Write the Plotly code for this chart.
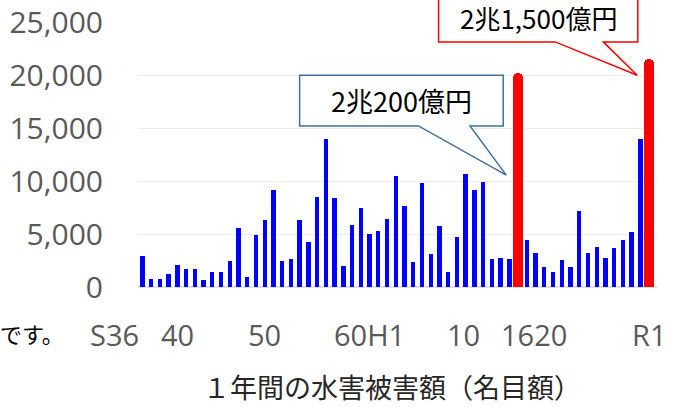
import plotly.graph_objects as go

# ---- data ----
years = list(range(1961, 2020))
damage = [
    2900, 800, 800, 1200, 2050, 1700, 1700, 650, 1450, 1450,      # 1961-1970
    2450, 5600, 900, 4900, 6300, 9150, 2450, 2600, 6300, 4250,    # 1971-1980
    8450, 13950, 8400, 2000, 5850, 7500, 5000, 5300, 6400, 10500, # 1981-1990
    7600, 2400, 9800, 3100, 5750, 1400, 4750, 10650, 9150, 9950,  # 1991-2000
    2600, 2700, 2600, 20200, 4450, 3250, 1850, 1400, 2550, 1850,  # 2001-2010
    7150, 3250, 3750, 2700, 3650, 4450, 5150, 14000, 21500,       # 2011-2019
]
highlight_years = [2004, 2019]

x_labels = ["S36", "40", "50", "60H1", "10", "1620", "R1"]
x_label_years = [1961, 1965, 1975, 1987, 1998, 2006, 2019]
x_label_shift = [-28, 0, 0, 0, -2.5, -1.5, 0]

y_ticks = [0, 5000, 10000, 15000, 20000, 25000]
y_tick_text = ["0", "5,000", "10,000", "15,000", "20,000", "25,000"]

callout_blue_text = "2兆200億円"
callout_red_text = "2兆1,500億円"
title_text = "１年間の水害被害額（名目額）"
left_fragment = "です。"

# ---- split series ----
bx = [y for y in years if y not in highlight_years]
by = [v for y, v in zip(years, damage) if y not in highlight_years]
rx = [y for y in years if y in highlight_years]
ry = [v for y, v in zip(years, damage) if y in highlight_years]

fig = go.Figure()
fig.add_trace(go.Bar(x=bx, y=by, width=0.5, marker=dict(color="#0000ff", line=dict(width=0)),
                     showlegend=False))
fig.add_trace(go.Bar(x=rx, y=ry, width=1.1, marker=dict(color="#ff0000", line=dict(width=0), cornerradius=5),
                     showlegend=False))

NUM_FONT = "Open Sans, Noto Sans CJK JP, sans-serif"
JP_FONT = "Noto Sans CJK JP, sans-serif"

fig.update_layout(
    width=678, height=407,
    margin=dict(l=138, r=21, t=22, b=120, autoexpand=False),
    paper_bgcolor="white", plot_bgcolor="white",
    barmode="overlay",
    bargap=0,
    xaxis=dict(range=[1960.5, 2019.9], showticklabels=False, showgrid=False, zeroline=False,
               showline=False, ticks="", automargin=False),
    yaxis=dict(range=[0, 25000], tickvals=y_ticks, ticktext=y_tick_text,
               tickfont=dict(family=NUM_FONT, size=30, color="#595959"),
               showgrid=True, gridcolor="#ebebeb", gridwidth=1, zeroline=True, zerolinecolor="#e0e0e0",
               showline=False, ticks="", ticklabelstandoff=34, automargin=False),
)

# x labels
for txt, pos, sh in zip(x_labels, x_label_years, x_label_shift):
    fig.add_annotation(x=pos, y=-0.181, xref="x", yref="paper", text=txt, showarrow=False,
                       xanchor="center", yanchor="middle", xshift=sh,
                       font=dict(family=NUM_FONT, size=29, color="#595959"))

# left fragment
fig.add_annotation(x=0, y=-0.174, xref="paper", yref="paper", text=left_fragment, showarrow=False,
                   xanchor="left", yanchor="middle", xshift=-140,
                   font=dict(family=JP_FONT, size=22, color="#000000"))

# title
fig.add_annotation(x=1989.6, y=-0.377, xref="x", yref="paper", text=title_text, showarrow=False,
                   xanchor="center", yanchor="middle",
                   font=dict(family=JP_FONT, size=27, color="#262626"))

# callouts
def callout(x0, x1, ytop, ybot, bl, br, tx, ty, color):
    path = (f"M {x0},{ytop} L {x1},{ytop} L {x1},{ybot} L {br},{ybot} L {tx},{ty} "
            f"L {bl},{ybot} L {x0},{ybot} Z")
    fig.add_shape(type="path", path=path, xref="x", yref="paper",
                  line=dict(color=color, width=1.5), fillcolor="white", layer="above")

callout(1979.0, 2002.3, 0.799, 0.608, 1992.6, 1998.5, 2002.65, 0.422, "#41719c")
callout(1994.9, 2017.7, 1.12, 0.925, 2008.25, 2013.75, 2017.64, 0.799, "#ff0000")

fig.add_annotation(x=1990.65, y=0.705, xref="x", yref="paper", text=callout_blue_text, showarrow=False,
                   xanchor="center", yanchor="middle", font=dict(family=JP_FONT, size=27, color="#000000"))
fig.add_annotation(x=2006.3, y=1.017, xref="x", yref="paper", text=callout_red_text, showarrow=False,
                   xanchor="center", yanchor="middle", font=dict(family=JP_FONT, size=26, color="#000000"))

fig.write_html("out.html", config={"displayModeBar": False},
               post_script="document.body.style.margin='0';document.body.style.padding='0';")
